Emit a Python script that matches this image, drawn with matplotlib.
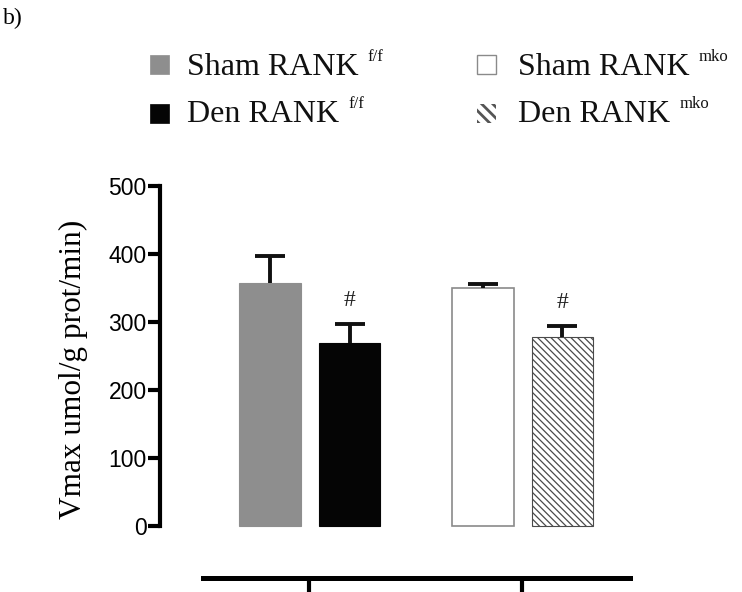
import matplotlib
matplotlib.use("Agg")
import matplotlib.pyplot as plt
from matplotlib.patches import Rectangle
import numpy as np

# ---- data ----
groups = ["RANK f/f", "RANK mko"]
series = ["Sham RANK", "Den RANK", "Sham RANK", "Den RANK"]
series_sup = ["f/f", "f/f", "mko", "mko"]
values = [357, 269, 350, 278]
errors = [40, 28, 6, 16]
signif = ["", "#", "", "#"]
yticks = [0, 100, 200, 300, 400, 500]

W, H = 742, 592
plt.rcParams['hatch.linewidth'] = 0.9

fig = plt.figure(figsize=(W/100, H/100), dpi=100)
ax = fig.add_axes([160/W, 14/H, 470/W, 392/H])

group_x = np.arange(len(groups))
offsets = [-0.185, 0.19, -0.185, 0.19]
gidx = [0, 0, 1, 1]
xs = [group_x[g] + o for g, o in zip(gidx, offsets)]
width = 0.29

styles = [
    dict(facecolor="#8e8e8e", edgecolor="#8e8e8e", linewidth=0.8),
    dict(facecolor="#050505", edgecolor="#050505", linewidth=0.8),
    dict(facecolor="white", edgecolor="#8a8a8a", linewidth=1.2),
    dict(facecolor="white", edgecolor="#4a4a4a", linewidth=0.8, hatch="\\\\\\\\\\"),
]

for x, v, e, st in zip(xs, values, errors, styles):
    ax.bar(x, v, width=width, zorder=2, **st)
    _, caps, _ = ax.errorbar(x, v, yerr=[[0], [e]], fmt="none", ecolor="#111111",
                             elinewidth=2.8, capsize=10.5, capthick=2.8, zorder=3)
    caps[0].set_visible(False)  # one-sided (upper) error bar

for x, v, e, s in zip(xs, values, errors, signif):
    if s:
        ax.text(x, v + e + 19, s, ha="center", va="bottom",
                fontsize=17, family="Liberation Serif", color="#222222")

ax.set_xlim(-0.70, 1.507)
ax.set_ylim(-76.5, 500)

for s in ["top", "right"]:
    ax.spines[s].set_visible(False)
ax.spines["left"].set_bounds(0, 500)
ax.spines["left"].set_linewidth(3.0)
ax.spines["bottom"].set_bounds(-0.498, 1.507)
ax.spines["bottom"].set_linewidth(3.6)

ax.set_yticks(yticks)
ax.set_yticklabels([str(t) for t in yticks], fontsize=16.5, family="Liberation Sans")
ax.tick_params(axis="y", direction="out", length=8.5, width=3.0, pad=1)
ax.set_xticks(group_x)
ax.set_xticklabels([])
ax.tick_params(axis="x", direction="out", length=12, width=3.0)

ax.set_ylabel("Vmax umol/g prot/min)", fontsize=22.5, family="Liberation Serif")
ax.yaxis.set_label_coords((88 - 160) / 470, (578 - 369) / 392)

# ---- legend (two columns, superscripted genotype) ----
def fx(px):
    return px / W

def fy(py):
    return 1 - py / H

leg_handles = [
    dict(facecolor="#8e8e8e", edgecolor="#8e8e8e", linewidth=0.5),
    dict(facecolor="#050505", edgecolor="#050505", linewidth=0.5),
    dict(facecolor="white", edgecolor="#8a8a8a", linewidth=1.0),
    dict(facecolor="white", edgecolor="#555555", linewidth=0, hatch="\\\\\\"),
]
col_hx = [150, 150, 477, 477]
col_tx = [187, 187, 518, 518]
row_top = [55, 104, 55, 104]
row_base = [75, 122, 75, 122]
hsize = 19

renderer = fig.canvas.get_renderer()
for i in range(4):
    r = Rectangle((fx(col_hx[i]), fy(row_top[i] + hsize)), hsize / W, hsize / H,
                  transform=fig.transFigure, **leg_handles[i])
    if i == 3 and hasattr(r, "set_hatch_linewidth"):
        r.set_hatch_linewidth(2.0)
    fig.add_artist(r)
    t = fig.text(fx(col_tx[i]), fy(row_base[i]), series[i], va="baseline", ha="left",
                 fontsize=23, family="Liberation Serif", color="#111111")
    bb = t.get_window_extent(renderer=renderer)
    fig.text(fx(bb.x1 + 9), fy(row_base[i] - 14), series_sup[i], va="baseline", ha="left",
             fontsize=12, family="Liberation Serif", color="#111111")

fig.text(fx(3), fy(24), "b)", fontsize=17, family="Liberation Serif", va="baseline")

fig.savefig("out.png", dpi=100)
